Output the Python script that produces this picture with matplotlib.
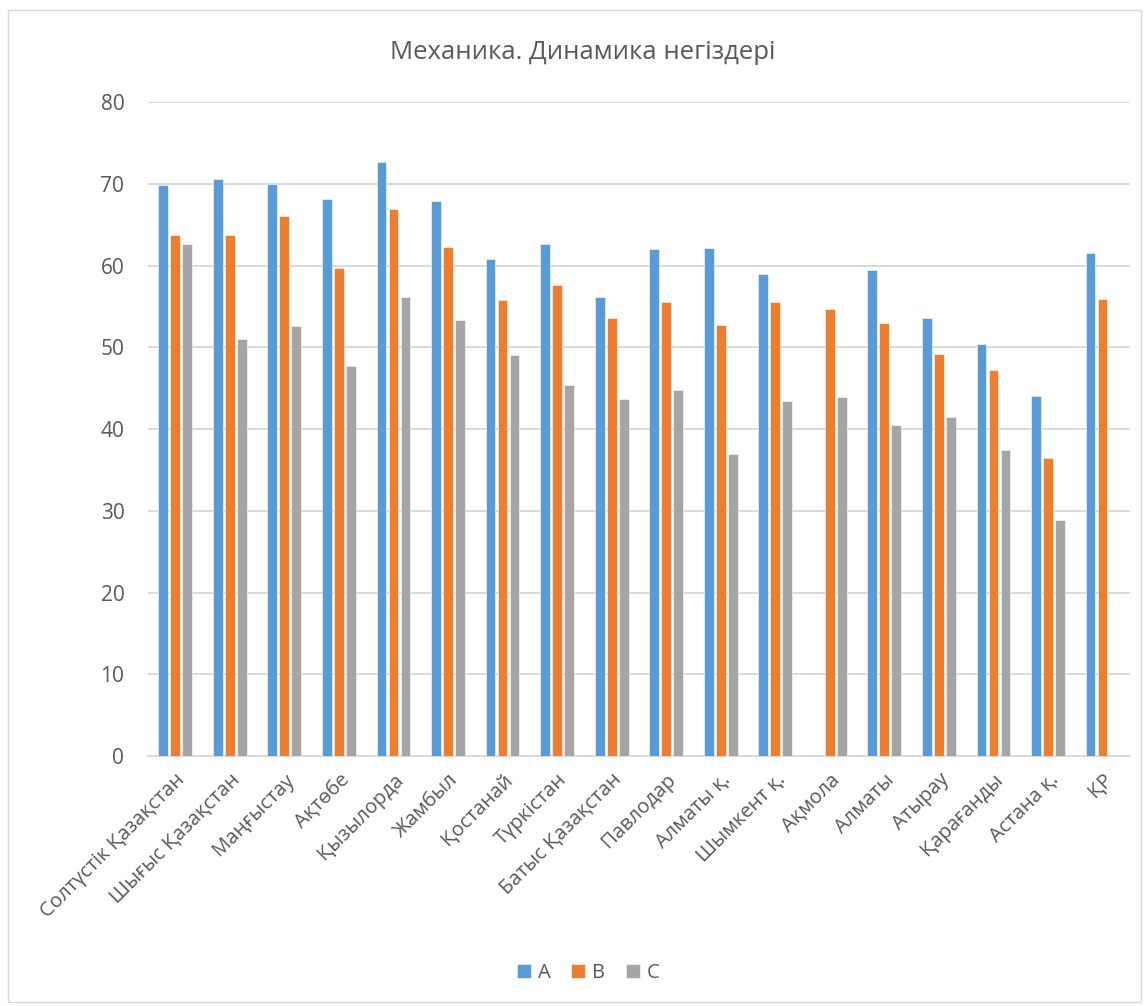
import matplotlib as mpl
import matplotlib.pyplot as plt
import numpy as np
from matplotlib.patches import Rectangle

mpl.rcParams.update({
    "font.family": ["Open Sans", "Noto Sans", "DejaVu Sans"],
    "font.size": 14,
    "text.color": "#595959",
    "axes.labelcolor": "#595959",
    "xtick.color": "#595959",
    "ytick.color": "#595959",
})

# --- Data ---
regions = [
    "Солтүстік Қазақстан", "Шығыс Қазақстан", "Маңғыстау", "Ақтөбе",
    "Қызылорда", "Жамбыл", "Қостанай", "Түркістан", "Батыс Қазақстан",
    "Павлодар", "Алматы қ.", "Шымкент қ.", "Ақмола", "Алматы", "Атырау",
    "Қарағанды", "Астана қ.", "ҚР",
]
series_names = ["A", "B", "C"]
vals_a = [69.8, 70.6, 70.0, 68.2, 72.7, 67.9, 60.8, 62.7, 56.2,
          62.0, 62.2, 59.0, np.nan, 59.4, 53.6, 50.4, 44.0, 61.5]
vals_b = [63.7, 63.8, 66.1, 59.7, 66.9, 62.3, 55.8, 57.6, 53.6,
          55.5, 52.7, 55.6, 54.7, 53.0, 49.2, 47.2, 36.4, 55.9]
vals_c = [62.7, 51.0, 52.6, 47.7, 56.2, 53.3, 49.1, 45.4, 43.7,
          44.8, 37.0, 43.4, 43.9, 40.5, 41.5, 37.4, 28.9, np.nan]

colors = ["#5B9BD5", "#ED7D31", "#A5A5A5"]

# --- Plot ---
fig = plt.figure(figsize=(11.47, 10.06), dpi=100)
ax = fig.add_axes([0.129, 0.2485, 0.856, 0.650])

x = np.arange(len(regions))
width = 0.18
step = 0.22
for i, (name, vals, color) in enumerate(zip(series_names, [vals_a, vals_b, vals_c], colors)):
    ax.bar(x + (i - 1) * step, vals, width, color=color, label=name,
           edgecolor="white", linewidth=0.4, zorder=3)

ax.set_xlim(-0.5, len(regions) - 0.5)
ax.set_ylim(0, 80)
ax.set_yticks(range(0, 81, 10))
ax.yaxis.grid(True, color="#D9D9D9", linewidth=1.4, zorder=0)
ax.set_xticks(x)
ax.set_xticklabels(regions, rotation=45, ha="right", rotation_mode="anchor")
ax.tick_params(axis="x", length=0, labelsize=14.5, pad=10)
ax.tick_params(axis="y", length=0, labelsize=15, pad=17)
for s in ["top", "right", "left"]:
    ax.spines[s].set_visible(False)
ax.spines["bottom"].set_color("#D9D9D9")
ax.spines["bottom"].set_linewidth(1.4)

fig.text(0.508, 0.948, "Механика. Динамика негіздері", ha="center", va="center",
         fontsize=18.5, color="#595959")

fig.legend(loc="center", bbox_to_anchor=(0.513, 0.033), ncol=3, frameon=False,
           handlelength=0.7, handleheight=0.7, handletextpad=0.35,
           columnspacing=1.0, fontsize=14.5)

# outer chart border
fig.patches.append(Rectangle((0.007, 0.004), 0.988, 0.986, transform=fig.transFigure,
                             fill=False, edgecolor="#D9D9D9", linewidth=1.0))

fig.savefig("out.png", dpi=100)
plt.close(fig)
